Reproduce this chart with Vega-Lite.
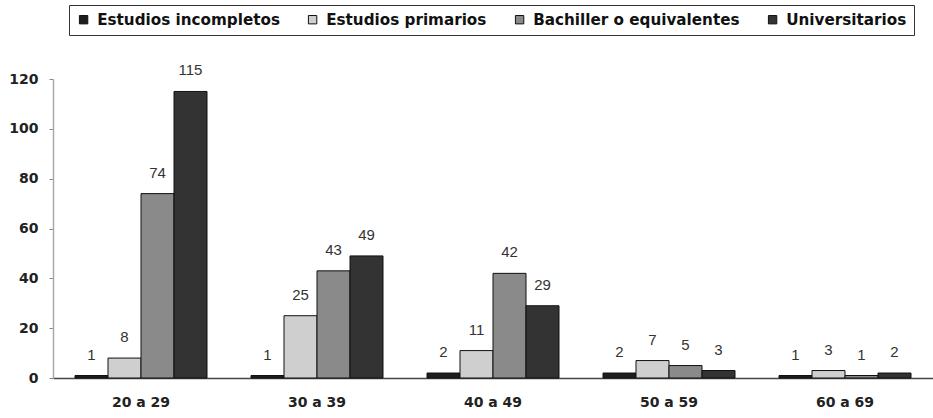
{
  "$schema": "https://vega.github.io/schema/vega-lite/v6.json",
  "autosize": {"type": "none"},
  "width": 880,
  "height": 299,
  "padding": {"left": 53, "top": 79, "right": 0, "bottom": 40},
  "background": "white",
  "config": {
    "view": {"stroke": null},
    "font": "DejaVu Sans",
    "axis": {"labelFont": "DejaVu Sans", "labelFontWeight": "bold", "labelFontSize": 14, "labelColor": "#222"}
  },
  "data": {
    "values": [
      {"grupo": "20 a 29", "serie": "Estudios incompletos", "valor": 1},
      {"grupo": "20 a 29", "serie": "Estudios primarios", "valor": 8},
      {"grupo": "20 a 29", "serie": "Bachiller o equivalentes", "valor": 74},
      {"grupo": "20 a 29", "serie": "Universitarios", "valor": 115},
      {"grupo": "30 a 39", "serie": "Estudios incompletos", "valor": 1},
      {"grupo": "30 a 39", "serie": "Estudios primarios", "valor": 25},
      {"grupo": "30 a 39", "serie": "Bachiller o equivalentes", "valor": 43},
      {"grupo": "30 a 39", "serie": "Universitarios", "valor": 49},
      {"grupo": "40 a 49", "serie": "Estudios incompletos", "valor": 2},
      {"grupo": "40 a 49", "serie": "Estudios primarios", "valor": 11},
      {"grupo": "40 a 49", "serie": "Bachiller o equivalentes", "valor": 42},
      {"grupo": "40 a 49", "serie": "Universitarios", "valor": 29},
      {"grupo": "50 a 59", "serie": "Estudios incompletos", "valor": 2},
      {"grupo": "50 a 59", "serie": "Estudios primarios", "valor": 7},
      {"grupo": "50 a 59", "serie": "Bachiller o equivalentes", "valor": 5},
      {"grupo": "50 a 59", "serie": "Universitarios", "valor": 3},
      {"grupo": "60 a 69", "serie": "Estudios incompletos", "valor": 1},
      {"grupo": "60 a 69", "serie": "Estudios primarios", "valor": 3},
      {"grupo": "60 a 69", "serie": "Bachiller o equivalentes", "valor": 1},
      {"grupo": "60 a 69", "serie": "Universitarios", "valor": 2}
    ]
  },
  "encoding": {
    "x": {
      "field": "grupo", "type": "nominal", "sort": null,
      "scale": {"paddingInner": 0.25, "paddingOuter": 0.125},
      "axis": {"title": null, "labelAngle": 0, "ticks": false, "labelPadding": 17, "domainColor": "#444", "domainWidth": 1.5}
    },
    "xOffset": {
      "field": "serie", "type": "nominal",
      "sort": ["Estudios incompletos", "Estudios primarios", "Bachiller o equivalentes", "Universitarios"]
    },
    "y": {
      "field": "valor", "type": "quantitative",
      "scale": {"domain": [0, 120], "nice": false},
      "axis": {"title": null, "values": [0, 20, 40, 60, 80, 100, 120], "grid": false, "domainColor": "#aaa", "domainWidth": 1.5, "tickColor": "#888", "tickSize": 4, "labelPadding": 11}
    }
  },
  "layer": [
    {
      "mark": {"type": "bar", "stroke": "#111", "strokeWidth": 1},
      "encoding": {
        "color": {
          "field": "serie", "type": "nominal",
          "sort": ["Estudios incompletos", "Estudios primarios", "Bachiller o equivalentes", "Universitarios"],
          "scale": {"domain": ["Estudios incompletos", "Estudios primarios", "Bachiller o equivalentes", "Universitarios"], "range": ["#1e1e1e", "#cfcfcf", "#8a8a8a", "#333333"]},
          "legend": {
            "title": null, "orient": "none", "direction": "horizontal",
            "legendX": 16, "legendY": -74,
            "symbolType": "square", "symbolSize": 70, "symbolStrokeColor": "#111", "symbolStrokeWidth": 1,
            "labelFont": "DejaVu Sans", "labelFontWeight": "bold", "labelFontSize": 15.2, "labelColor": "#111", "labelOffset": 6,
            "labelLimit": 400,
            "columnPadding": 25, "symbolOffset": 0,
            "strokeColor": "#333", "padding": 7, "fillColor": "white"
          }
        }
      }
    },
    {
      "mark": {"type": "text", "dy": -21, "fontSize": 15, "color": "#333", "font": "Liberation Sans"},
      "encoding": {"text": {"field": "valor", "type": "quantitative"}}
    }
  ]
}
